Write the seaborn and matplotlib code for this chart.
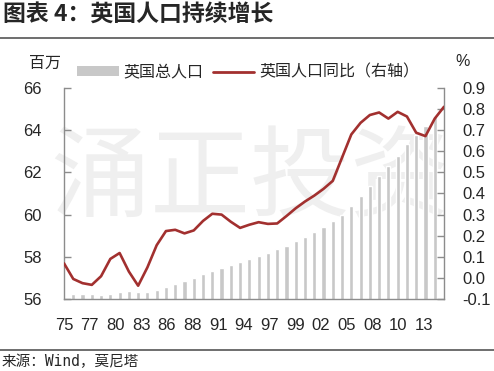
import numpy as np
import pandas as pd
import matplotlib
matplotlib.use("Agg")
import matplotlib.pyplot as plt
import seaborn as sns
from matplotlib.patches import Patch
from matplotlib.lines import Line2D

# data
bar_years = list(range(1975, 2015))
population = [56.25, 56.24, 56.22, 56.20, 56.26, 56.33, 56.37, 56.33, 56.35, 56.45,
              56.58, 56.71, 56.86, 57.01, 57.18, 57.33, 57.46, 57.62, 57.75, 57.89,
              58.04, 58.20, 58.37, 58.52, 58.73, 58.92, 59.16, 59.41, 59.70, 60.00,
              60.43, 60.87, 61.35, 61.82, 62.30, 62.78, 63.33, 63.76, 64.19, 64.67]
line_years = list(range(1974, 2016))
growth = [0.069, -0.005, -0.025, -0.033, 0.008, 0.090, 0.118, 0.030, -0.037, 0.050,
          0.155, 0.222, 0.228, 0.211, 0.225, 0.270, 0.304, 0.300, 0.266, 0.237,
          0.252, 0.264, 0.256, 0.258, 0.293, 0.330, 0.362, 0.390, 0.422, 0.460,
          0.570, 0.680, 0.735, 0.772, 0.784, 0.755, 0.787, 0.765, 0.688, 0.672,
          0.755, 0.811]
tick_labels = ["75", "77", "80", "83", "86", "88", "91", "94", "97", "99",
               "02", "05", "08", "10", "13"]

df_bar = pd.DataFrame({"year": bar_years, "pop": population})
df_line = pd.DataFrame({"year": line_years, "yoy": growth})

sns.set_style("white")
plt.rcParams['font.family'] = ['Liberation Sans', 'Noto Sans CJK SC', 'DejaVu Sans']

fig = plt.figure(figsize=(4.94, 3.71), dpi=100)
ax = fig.add_axes([64/494, 1-299/371, 380/494, 211/371])
ax.patch.set_alpha(0)

bar_color = "#c8c8c8"
line_color = "#a2302f"
spine_color = "#8c8c8c"

sns.barplot(data=df_bar, x="year", y="pop", native_scale=True, width=0.45,
            color=bar_color, ax=ax, zorder=2)
ax.set_ylim(56, 66)
ax.set_yticks(np.arange(56, 67, 2))
ax.set_xlim(1974, 2015)
ax.set_xticks(np.linspace(1974, 2012.8, 15))
ax.set_xticklabels(tick_labels)
ax.set_xlabel("")
ax.set_ylabel("")

ax2 = ax.twinx()
sns.lineplot(data=df_line, x="year", y="yoy", color=line_color, linewidth=1.9,
             ax=ax2, zorder=3)
ax2.set_ylim(-0.1, 0.9)
ax2.set_yticks(np.arange(-0.1, 0.91, 0.1))
ax2.set_yticklabels([f"{v:.1f}" for v in np.arange(-0.1, 0.91, 0.1)])
ax2.set_xlim(1974, 2015)
ax2.set_ylabel("")
ax2.set_xlabel("")

for a in (ax, ax2):
    a.spines["top"].set_visible(False)
    for s in ("left", "right", "bottom"):
        a.spines[s].set_color(spine_color)
        a.spines[s].set_linewidth(1.0)
ax.spines["right"].set_visible(False)
ax2.spines["left"].set_visible(False)
ax2.spines["bottom"].set_visible(False)

ax.tick_params(axis="y", direction="in", length=5, width=1, color=spine_color,
               labelsize=12, pad=16, left=True)
ax.tick_params(axis="x", length=0, labelsize=12, pad=14)
ax2.tick_params(axis="y", direction="in", length=5, width=1, color=spine_color,
                labelsize=12, pad=13, right=True)

# watermark
ax.text(0.49, 0.56, "涌正投资", transform=ax.transAxes, fontsize=72,
        color="#efefef", ha="center", va="center", zorder=0,
        family=['Noto Sans CJK SC'], fontweight="light")

# title, rules, source
fig.text(3/494, 1-14/371, "图表 4：英国人口持续增长", fontsize=16.5, fontweight="bold",
         va="center", ha="left", family=['Noto Sans CJK SC', 'DejaVu Sans'])
fig.add_artist(Line2D([0, 1], [1-38/371, 1-38/371], color="#555555", linewidth=1.2))
fig.add_artist(Line2D([0, 1], [1-350/371, 1-350/371], color="#555555", linewidth=1.2))
fig.text(2/494, 1-362/371, "来源：Wind，莫尼塔", fontsize=10.5, va="center", ha="left",
         family=['DejaVu Sans Mono', 'Noto Sans CJK SC'])

fig.text(45/494, 1-63/371, "百万", fontsize=11.5, va="center", ha="center")
fig.text(463/494, 1-62/371, "%", fontsize=11.5, va="center", ha="center")

handles = [Patch(facecolor=bar_color, edgecolor="none", label="英国总人口"),
           Line2D([0], [0], color=line_color, linewidth=2, label="英国人口同比（右轴）")]
fig.legend(handles=handles, loc="center left", bbox_to_anchor=(77/494, 1-72/371),
           ncol=2, frameon=False, fontsize=11.5, handlelength=2.6, handleheight=0.5,
           handletextpad=0.3, columnspacing=0.6, borderpad=0, borderaxespad=0)

fig.savefig("out.png", dpi=100)
